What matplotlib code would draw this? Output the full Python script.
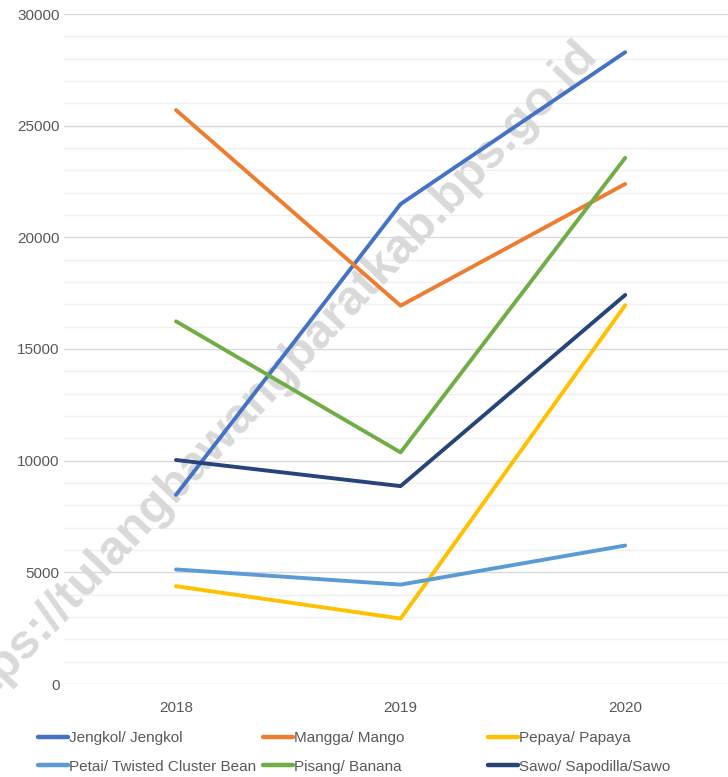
import matplotlib
matplotlib.use("Agg")
import matplotlib.pyplot as plt
import numpy as np

years = ["2018", "2019", "2020"]
jengkol = [8470, 21490, 28290]
mangga = [25700, 16940, 22390]
pepaya = [4380, 2930, 16960]
petai = [5130, 4450, 6200]
pisang = [16240, 10370, 23560]
sawo = [10030, 8860, 17420]

series_names = ["Jengkol/ Jengkol", "Mangga/ Mango", "Pepaya/ Papaya",
                "Petai/ Twisted Cluster Bean", "Pisang/ Banana", "Sawo/ Sapodilla/Sawo"]
series_values = [jengkol, mangga, pepaya, petai, pisang, sawo]
colors = ["#4472C4", "#ED7D31", "#FFC000", "#5B9BD5", "#70AD47", "#264478"]

W, H = 728, 777
fig = plt.figure(figsize=(W / 100, H / 100), dpi=100)
plt.rcParams['font.family'] = ['Liberation Sans', 'DejaVu Sans']

left_px, right_px = 63.7, 737.5
top_px, bot_px = 14, 684
ax = fig.add_axes([left_px / W, 1 - bot_px / H, (right_px - left_px) / W, (bot_px - top_px) / H])

# watermark: above gridlines, below data lines
ax.text(590 / W, 1 - 47 / H, "https://tulangbawangbaratkab.bps.go.id",
        transform=fig.transFigure, clip_on=False,
        rotation=46.5, rotation_mode='anchor', ha='right', va='center',
        fontsize=35.2, fontweight='bold', color='#d9d9d9', zorder=1)

x = np.arange(len(years))
lines = []
for name, vals, c in zip(series_names, series_values, colors):
    ln, = ax.plot(x, vals, color=c, lw=2.8, solid_capstyle='round', label=name, zorder=3)
    lines.append(ln)

ax.set_xlim(-0.5, 2.5)
ax.set_ylim(0, 30000)
ax.set_yticks(np.arange(0, 30001, 5000))
ax.set_yticks(np.arange(0, 30001, 1000), minor=True)
ax.set_xticks(x)
ax.set_xticklabels(years)
ax.grid(axis='y', which='major', color='#d9d9d9', lw=1.0, zorder=0)
ax.grid(axis='y', which='minor', color='#f0f0f0', lw=1.0, zorder=0)
ax.set_axisbelow(True)
for s in ax.spines.values():
    s.set_visible(False)
ax.tick_params(axis='both', which='both', length=0, colors='#595959', labelsize=11)
ax.tick_params(axis='y', pad=3)
ax.tick_params(axis='x', pad=12)

# legend: three columns of equal width
col_x = [38, 263, 488]
for ci in range(3):
    hs = [lines[ci], lines[ci + 3]]
    leg = fig.legend(handles=hs, labels=[h.get_label() for h in hs],
                     loc='upper left', bbox_to_anchor=(col_x[ci] / W, 1 - 731 / H),
                     frameon=False, fontsize=11, handlelength=1.95, handletextpad=0.05,
                     labelspacing=0.95, borderaxespad=0, borderpad=0)
    for t in leg.get_texts():
        t.set_color('#595959')
    for lh in leg.get_lines():
        lh.set_linewidth(3.2)

fig.savefig("out.png", dpi=100)
